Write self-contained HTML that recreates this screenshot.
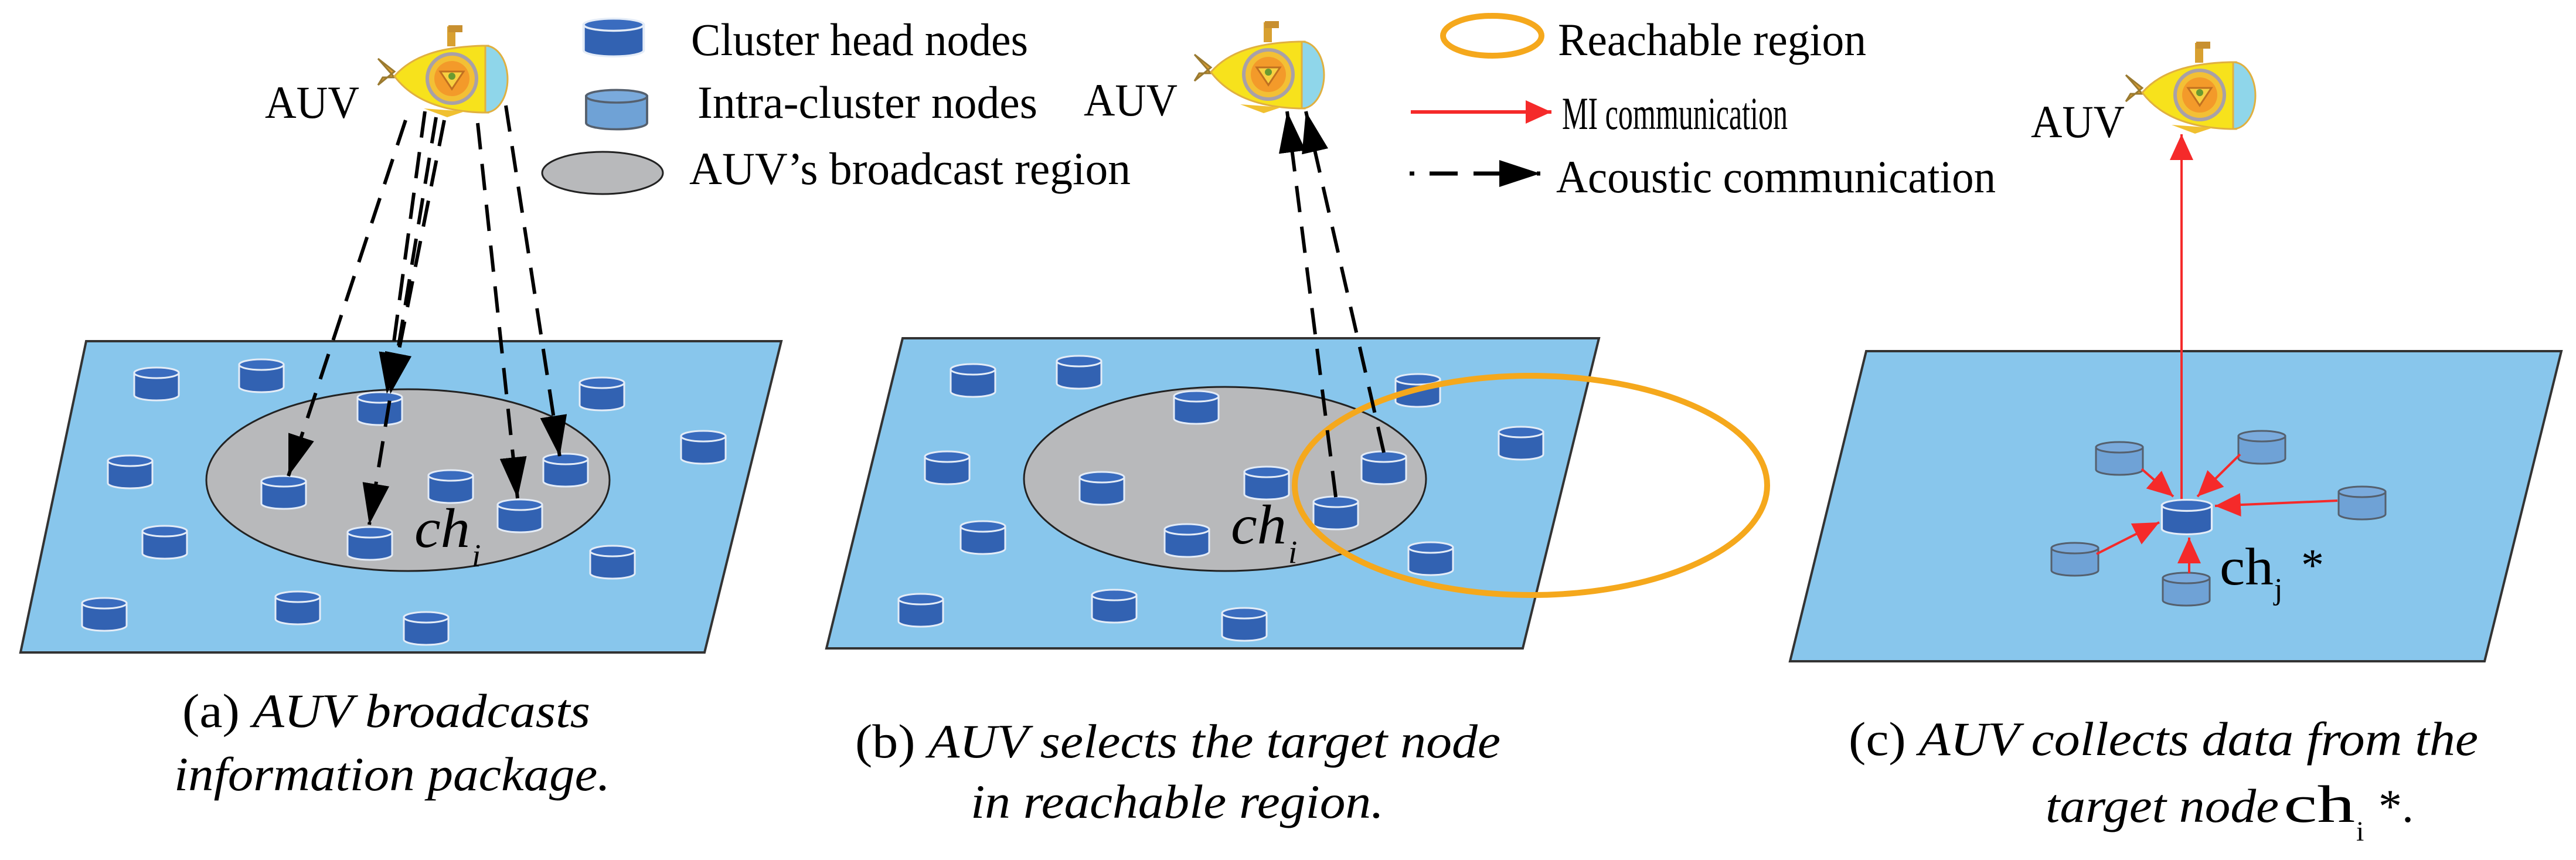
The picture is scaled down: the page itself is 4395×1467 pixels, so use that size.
<!DOCTYPE html>
<html><head><meta charset="utf-8"><style>
html,body{margin:0;padding:0;background:#fff}
svg{display:block}
text{font-family:"Liberation Serif",serif;fill:#000}
</style></head><body>
<svg width="4395" height="1467" viewBox="0 0 4395 1467" xmlns="http://www.w3.org/2000/svg">
<defs>
<marker id="ab" viewBox="0 0 70 46" refX="70" refY="23" markerWidth="70" markerHeight="46" markerUnits="userSpaceOnUse" orient="auto"><path d="M0,0 L70,23 L0,46 Z" fill="#000"/></marker>
<marker id="ar" viewBox="0 0 44 40" refX="44" refY="20" markerWidth="44" markerHeight="40" markerUnits="userSpaceOnUse" orient="auto"><path d="M0,0 L44,20 L0,40 Z" fill="#f52a2a"/></marker>
<g id="dn">
<path d="M-38,-19 L-38,19 A38,9 0 0 0 38,19 L38,-19 Z" fill="#3262b2" stroke="#e4ecf7" stroke-width="3"/>
<ellipse cx="0" cy="-19" rx="38" ry="9" fill="#3a6cbf" stroke="#e4ecf7" stroke-width="3"/>
</g>
<g id="ln">
<path d="M-40,-19 L-40,19 A40,9 0 0 0 40,19 L40,-19 Z" fill="#6fa2d6" stroke="#55606e" stroke-width="3"/>
<ellipse cx="0" cy="-19" rx="40" ry="9" fill="#7aaadc" stroke="#55606e" stroke-width="3"/>
</g>
<g id="sub">
<path d="M2,60 L30,82 L2,105 L10,92 L30,92 Z" fill="#e0a030" stroke="#9a7a30" stroke-width="3"/>
<rect x="120" y="5" width="14" height="34" fill="#d8a030"/>
<rect x="122" y="3" width="24" height="12" fill="#c89030"/>
<path d="M30,90 C60,55 110,40 180,38 L190,38 L190,152 L180,152 C110,150 60,130 30,90 Z" fill="#f7e21c" stroke="#e0b040" stroke-width="3"/>
<path d="M185,38 A38,57 0 0 1 185,152 Z" fill="#8fd6ea" stroke="#e0b040" stroke-width="3"/>
<path d="M80,145 L120,160 L150,150 Z" fill="#f0c030"/>
<circle cx="128" cy="94" r="42" fill="#f3c035" stroke="#a8a0a8" stroke-width="6"/>
<circle cx="128" cy="94" r="30" fill="#f39a2a"/>
<path d="M108,82 L148,82 L128,112 Z" fill="#f7d040" stroke="#c07020" stroke-width="3"/>
<circle cx="128" cy="90" r="6" fill="#6a9a30"/>
</g>
</defs>

<!-- Legend -->
<g transform="translate(1047,64) scale(1.35,1.15)"><use href="#dn"/></g>
<text x="1179" y="94" font-size="78" textLength="575" lengthAdjust="spacingAndGlyphs">Cluster head nodes</text>
<g transform="translate(1052,187) scale(1.3,1.2)"><use href="#ln"/></g>
<text x="1190" y="201" font-size="78" textLength="580" lengthAdjust="spacingAndGlyphs">Intra-cluster  nodes</text>
<ellipse cx="1028" cy="295" rx="103" ry="36" fill="#b8b9bb" stroke="#222" stroke-width="3"/>
<text x="1176" y="314" font-size="78" textLength="753" lengthAdjust="spacingAndGlyphs">AUV’s  broadcast region</text>
<ellipse cx="2546" cy="61" rx="84" ry="34" fill="none" stroke="#f5a81c" stroke-width="10"/>
<text x="2658" y="94" font-size="78" textLength="526" lengthAdjust="spacingAndGlyphs">Reachable region</text>
<line x1="2407" y1="191" x2="2647" y2="191" stroke="#f52a2a" stroke-width="6" marker-end="url(#ar)"/>
<text x="2665" y="220" font-size="78" textLength="385" lengthAdjust="spacingAndGlyphs">MI communication</text>
<line x1="2405" y1="296" x2="2628" y2="296" stroke="#000" stroke-width="7" stroke-dasharray="8 26 48 27 100" marker-end="url(#ab)"/>
<text x="2655" y="328" font-size="78" textLength="750" lengthAdjust="spacingAndGlyphs">Acoustic communication</text>

<!-- Panel a -->
<text x="452" y="201" font-size="78" textLength="161" lengthAdjust="spacingAndGlyphs">AUV</text>
<use href="#sub" x="643" y="40"/>
<polygon points="147,582 1333,582 1202,1113 35,1113" fill="#88c6ec" stroke="#333" stroke-width="4"/>
<ellipse cx="696" cy="819" rx="344" ry="155" fill="#b8b9bb" stroke="#222" stroke-width="3"/>
<use href="#dn" x="267" y="655"/><use href="#dn" x="446" y="641"/><use href="#dn" x="648" y="697"/>
<use href="#dn" x="1027" y="672"/><use href="#dn" x="1200" y="763"/><use href="#dn" x="222" y="805"/>
<use href="#dn" x="484" y="840"/><use href="#dn" x="769" y="830"/><use href="#dn" x="965" y="802"/>
<use href="#dn" x="887" y="880"/><use href="#dn" x="631" y="927"/><use href="#dn" x="281" y="925"/>
<use href="#dn" x="1045" y="959"/><use href="#dn" x="178" y="1048"/><use href="#dn" x="508" y="1037"/>
<use href="#dn" x="727" y="1072"/>
<text x="707" y="933" font-size="95" font-style="italic" textLength="95" lengthAdjust="spacingAndGlyphs">ch</text>
<text x="805" y="966" font-size="55" font-style="italic">i</text>
<g stroke="#000" stroke-width="6" stroke-dasharray="45 25" fill="none">
<line x1="692" y1="205" x2="492" y2="812" marker-end="url(#ab)"/>
<line x1="725" y1="190" x2="660" y2="672" marker-end="url(#ab)"/>
<line x1="758" y1="205" x2="666" y2="672" marker-end="url(#ab)"/>
<line x1="744" y1="200" x2="630" y2="895" marker-end="url(#ab)"/>
<line x1="815" y1="210" x2="883" y2="850" marker-end="url(#ab)"/>
<line x1="863" y1="180" x2="955" y2="779" marker-end="url(#ab)"/>
</g>
<text x="311" y="1240" font-size="82" textLength="696" lengthAdjust="spacingAndGlyphs">(a) <tspan font-style="italic">AUV broadcasts</tspan></text>
<text x="297" y="1348" font-size="82" font-style="italic" textLength="744" lengthAdjust="spacingAndGlyphs">information package.</text>

<!-- Panel b -->
<text x="1849" y="197" font-size="78" textLength="160" lengthAdjust="spacingAndGlyphs">AUV</text>
<use href="#sub" x="2036" y="33"/>
<polygon points="1540,577 2728,577 2598,1106 1410,1106" fill="#88c6ec" stroke="#333" stroke-width="4"/>
<ellipse cx="2090" cy="817" rx="343" ry="157" fill="#b8b9bb" stroke="#222" stroke-width="3"/>
<use href="#dn" x="1660" y="649"/><use href="#dn" x="1841" y="635"/><use href="#dn" x="2041" y="695"/>
<use href="#dn" x="1616" y="798"/><use href="#dn" x="1880" y="833"/><use href="#dn" x="2161" y="824"/>
<use href="#dn" x="2025" y="922"/><use href="#dn" x="1677" y="917"/><use href="#dn" x="1571" y="1041"/>
<use href="#dn" x="1901" y="1034"/><use href="#dn" x="2123" y="1065"/><use href="#dn" x="2419" y="666"/>
<use href="#dn" x="2595" y="756"/><use href="#dn" x="2361" y="798"/><use href="#dn" x="2279" y="875"/>
<use href="#dn" x="2441" y="953"/>
<text x="2100" y="927" font-size="95" font-style="italic" textLength="95" lengthAdjust="spacingAndGlyphs">ch</text>
<text x="2198" y="960" font-size="55" font-style="italic">i</text>
<ellipse cx="2612" cy="828" rx="403" ry="187" fill="none" stroke="#f5a81c" stroke-width="10"/>
<g stroke="#000" stroke-width="6" stroke-dasharray="45 25" fill="none">
<line x1="2279" y1="848" x2="2196" y2="190" marker-end="url(#ab)"/>
<line x1="2361" y1="772" x2="2228" y2="190" marker-end="url(#ab)"/>
</g>
<text x="1459" y="1292" font-size="82" textLength="1101" lengthAdjust="spacingAndGlyphs">(b) <tspan font-style="italic">AUV selects the target node</tspan></text>
<text x="1656" y="1395" font-size="82" font-style="italic" textLength="705" lengthAdjust="spacingAndGlyphs">in reachable region.</text>

<!-- Panel c -->
<text x="3465" y="234" font-size="78" textLength="160" lengthAdjust="spacingAndGlyphs">AUV</text>
<use href="#sub" x="3625" y="68"/>
<polygon points="3184,599 4370,599 4239,1128 3054,1128" fill="#88c6ec" stroke="#333" stroke-width="4"/>
<line x1="3722" y1="855" x2="3722" y2="229" stroke="#f52a2a" stroke-width="4" marker-end="url(#ar)"/>
<use href="#ln" x="3616" y="782"/><use href="#ln" x="3859" y="763"/><use href="#ln" x="4030" y="858"/>
<use href="#ln" x="3540" y="954"/><use href="#ln" x="3730" y="1005"/>
<g transform="translate(3731,882) scale(1.12,1.05)"><use href="#dn"/></g>
<g stroke="#f52a2a" stroke-width="4">
<line x1="3654" y1="800" x2="3708" y2="847" marker-end="url(#ar)"/>
<line x1="3822" y1="775" x2="3749" y2="847" marker-end="url(#ar)"/>
<line x1="3988" y1="854" x2="3779" y2="863" marker-end="url(#ar)"/>
<line x1="3577" y1="945" x2="3684" y2="891" marker-end="url(#ar)"/>
<line x1="3735" y1="978" x2="3735" y2="917" marker-end="url(#ar)"/>
</g>
<text x="3787" y="997" font-size="90" textLength="92" lengthAdjust="spacingAndGlyphs">ch</text>
<text x="3880" y="1022" font-size="52">j</text>
<text x="3926" y="990" font-size="78">*</text>
<text x="3154" y="1288" font-size="82" textLength="1074" lengthAdjust="spacingAndGlyphs">(c) <tspan font-style="italic">AUV collects data from the</tspan></text>
<text x="3490" y="1402" font-size="82" font-style="italic" textLength="398" lengthAdjust="spacingAndGlyphs">target node</text>
<text x="3896" y="1402" font-size="90" textLength="122" lengthAdjust="spacingAndGlyphs">ch</text>
<text x="4020" y="1434" font-size="48">i</text>
<text x="4058" y="1402" font-size="80">*.</text>
</svg>
</body></html>
